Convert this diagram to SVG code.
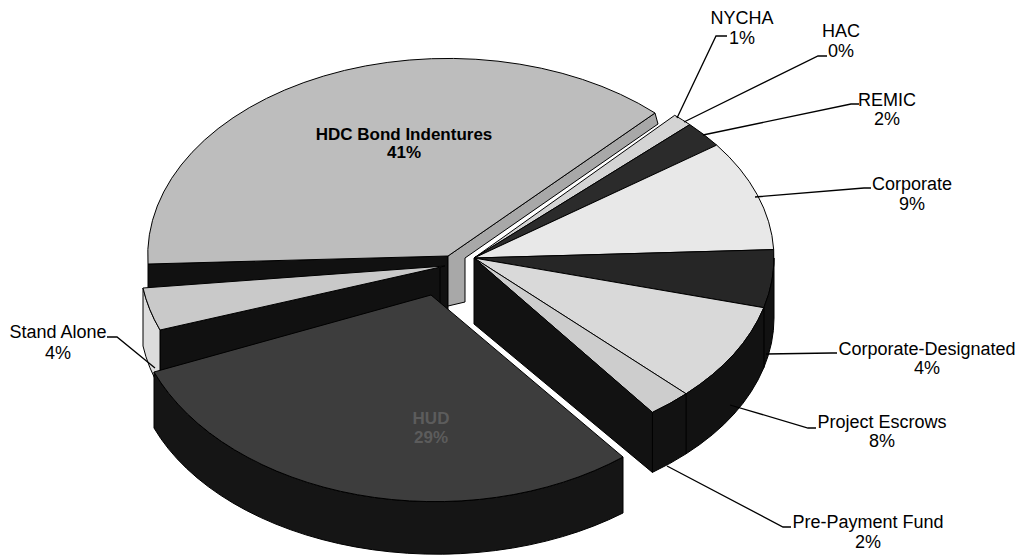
<svg xmlns="http://www.w3.org/2000/svg" width="1027" height="556" viewBox="0 0 1027 556">
<style>
.lbl{font-family:"Liberation Sans",Arial,sans-serif;font-size:18px;fill:#000;text-anchor:middle}
.in{font-weight:bold;font-size:17px}
.edge{stroke:#000;stroke-width:1;stroke-linejoin:round}
.wall{fill:#121212;stroke:#000;stroke-width:1}
.lead{fill:none;stroke:#000;stroke-width:1.3}
</style>
<rect width="1027" height="556" fill="#fff"/>

<g id="slice-hdc">
  <path class="edge" fill="#111" d="M148,264 L448,256 L448,313 L148,321 Z"/>
  <path class="edge" fill="#a8a8a8" d="M448,256 L655,113 L658,124 L465,258 L465,302 L448,306 Z"/>
  <path class="edge" fill="#bdbdbd" d="M448,256 L655,113 A300,197 0 0 0 148,264 Z"/>
  <text class="lbl in" x="404" y="140">HDC Bond Indentures</text>
  <text class="lbl in" x="404" y="158">41%</text>
</g>

<g id="slice-nycha">
  <path class="edge" fill="#d4d4d4" d="M474,258 L674.7,115.3 A300,192 0 0 1 689.8,124.6 Z"/>
  <text class="lbl" x="742" y="24">NYCHA</text>
  <text class="lbl" x="742" y="44">1%</text>
</g>

<g id="slice-hac">
  <text class="lbl" x="841" y="37">HAC</text>
  <text class="lbl" x="841" y="57">0%</text>
</g>

<g id="slice-remic">
  <path class="edge" fill="#2b2b2b" d="M474,258 L689.8,124.6 A300,192 0 0 1 716.7,145.1 Z"/>
  <text class="lbl" x="887" y="106">REMIC</text>
  <text class="lbl" x="887" y="125">2%</text>
</g>

<g id="slice-corporate">
  <path class="edge" fill="#e8e8e8" d="M474,258 L716.7,145.1 A300,192 0 0 1 773.7,249.6 Z"/>
  <text class="lbl" x="912" y="190">Corporate</text>
  <text class="lbl" x="912" y="210">9%</text>
</g>

<g id="slice-corporate-designated">
  <path class="edge" fill="#262626" d="M474,258 L773.7,249.6 A300,192 0 0 1 763.8,307.7 Z"/>
  <path class="wall" d="M774,258 A300,192 0 0 1 763.8,307.7 L763.8,367.7 A300,192 0 0 0 774,318 Z"/>
  <text class="lbl" x="927" y="355">Corporate-Designated</text>
  <text class="lbl" x="927" y="374">4%</text>
</g>

<g id="slice-project-escrows">
  <path class="edge" fill="#d9d9d9" d="M474,258 L763.8,307.7 A300,192 0 0 1 686.1,393.8 Z"/>
  <path class="wall" d="M763.8,307.7 A300,192 0 0 1 686.1,393.8 L686.1,453.8 A300,192 0 0 0 763.8,367.7 Z"/>
  <text class="lbl" x="882" y="428">Project Escrows</text>
  <text class="lbl" x="882" y="447">8%</text>
</g>

<g id="slice-pre-payment-fund">
  <path class="edge" fill="#cdcdcd" d="M474,258 L686.1,393.8 A300,192 0 0 1 652.4,412.4 Z"/>
  <path class="wall" d="M686.1,393.8 A300,192 0 0 1 652.4,412.4 L652.4,472.4 A300,192 0 0 0 686.1,453.8 Z"/>
  <path class="wall" d="M474,258 L652.4,412.4 L652.4,472.4 L474,324 Z"/>
  <text class="lbl" x="868" y="528">Pre-Payment Fund</text>
  <text class="lbl" x="868" y="548">2%</text>
</g>

<g id="slice-stand-alone">
  <path class="edge" fill="#111" d="M160,330 L440,267 L440,322 L160,388 Z"/>
  <path class="edge" fill="#dcdcdc" d="M143,288 A305,200 0 0 0 160,330 L160,388 A305,200 0 0 1 143,346 Z"/>
  <path class="edge" fill="#c9c9c9" d="M445,266 L143,288 A305,200 0 0 0 160,330 Z"/>
  <text class="lbl" x="58" y="338">Stand Alone</text>
  <text class="lbl" x="58" y="359">4%</text>
</g>

<g id="slice-hud">
  <path class="edge" fill="#151515" d="M623,457 A303,207 0 0 1 154,372 L154,428 A303,196 0 0 0 623,513 Z"/>
  <path class="edge" fill="#3d3d3d" d="M431,295 L623,457 A303,207 0 0 1 154,372 Z"/>
  <text class="lbl in" x="431" y="424" style="fill:#5c5c5c">HUD</text>
  <text class="lbl in" x="431" y="443" style="fill:#5c5c5c">29%</text>
</g>

<g id="connectors">
  <polyline class="lead" points="677,118 716,36 727,36"/>
  <polyline class="lead" points="684,122 818,56 827,56"/>
  <polyline class="lead" points="703,135 851,104 859,104"/>
  <polyline class="lead" points="755,197 864,188 871,188"/>
  <polyline class="lead" points="766,354 832,353 837,353"/>
  <polyline class="lead" points="730,405 808,428 816,428"/>
  <polyline class="lead" points="667,466 783,527 791,527"/>
  <polyline class="lead" points="155,368 117,337 107,337"/>
</g>
</svg>
